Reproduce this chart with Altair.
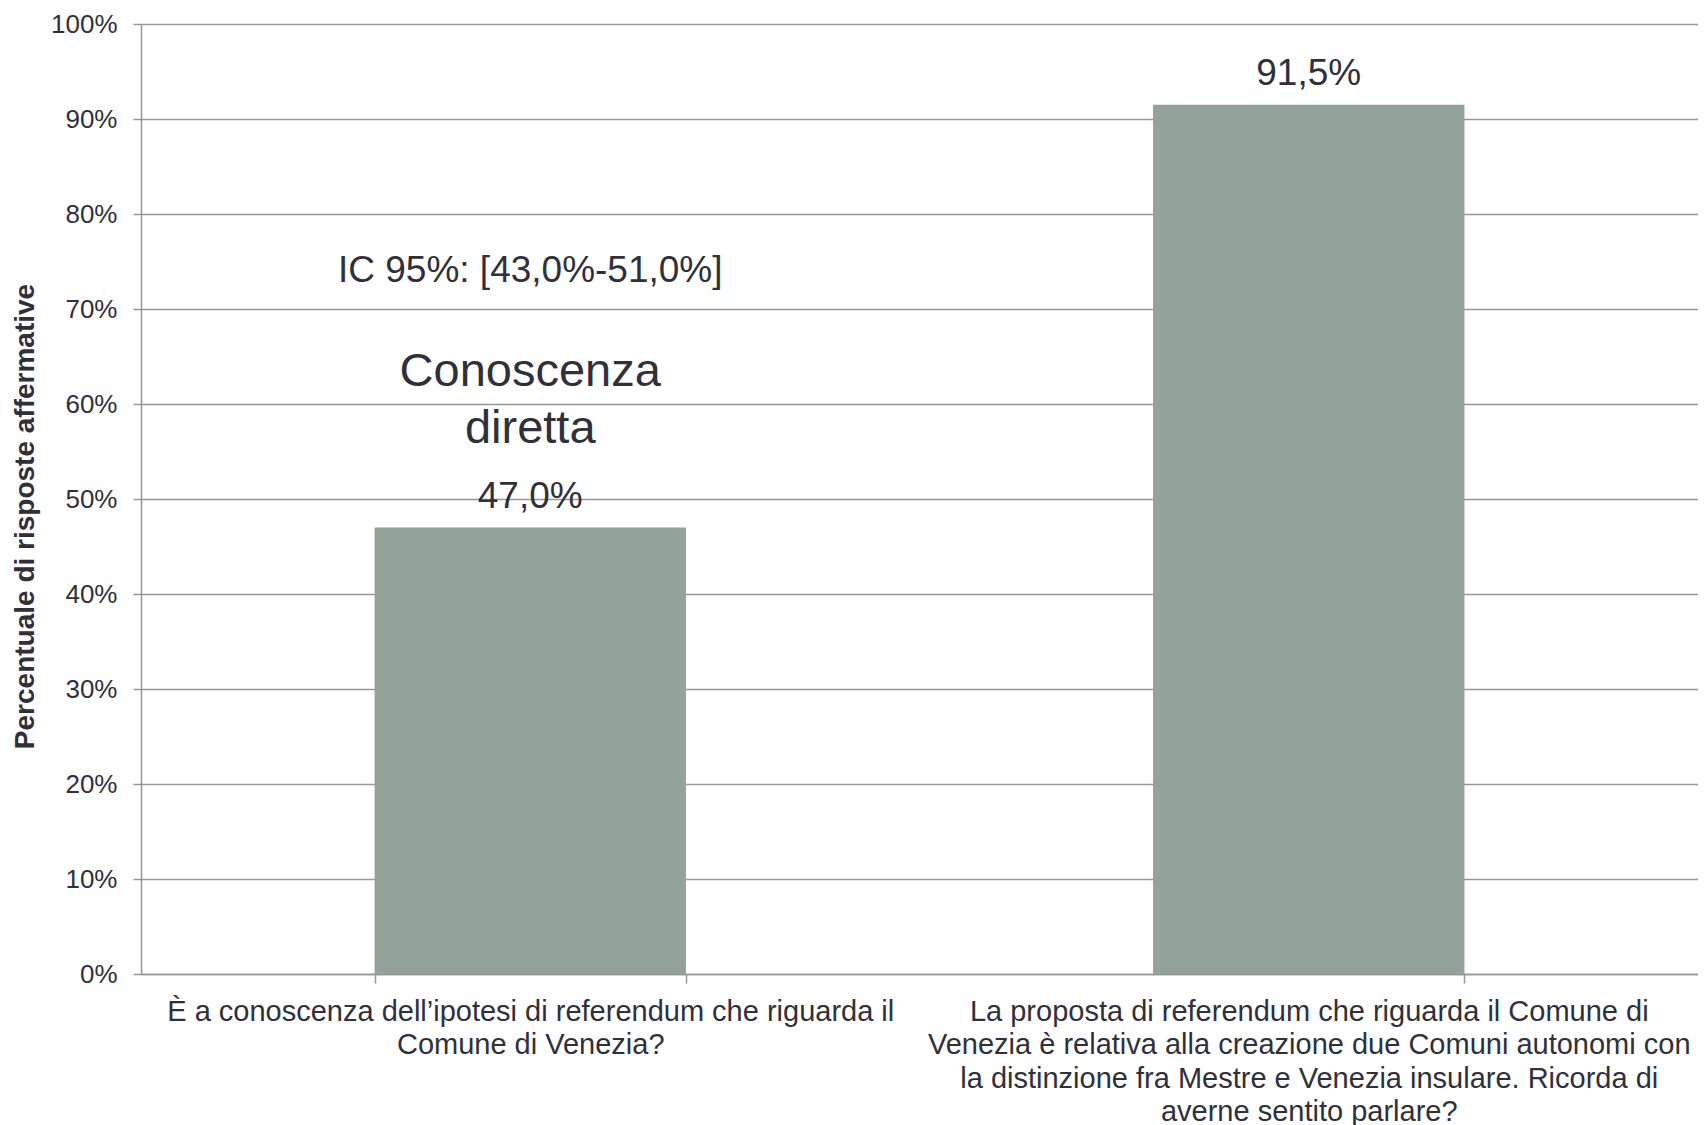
import altair as alt
import pandas as pd

# ---- data ----
question_lines = [
    ["È a conoscenza dell’ipotesi di referendum che riguarda il", "Comune di Venezia?"],
    ["La proposta di referendum che riguarda il Comune di",
     "Venezia è relativa alla creazione due Comuni autonomi con",
     "la distinzione fra Mestre e Venezia insulare. Ricorda di",
     "averne sentito parlare?"],
]
values = [47.0, 91.5]
value_labels = ["47,0%", "91,5%"]
y_ticks = [0, 10, 20, 30, 40, 50, 60, 70, 80, 90, 100]
y_title = "Percentuale di risposte affermative"
ci_text = "IC 95%: [43,0%-51,0%]"
note_lines = ["Conoscenza", "diretta"]

categories = ["|".join(lines) for lines in question_lines]
df = pd.DataFrame({"domanda": categories, "valore": values, "etichetta": value_labels})
ann = pd.DataFrame({"domanda": [categories[0]], "valore": [values[0]],
                    "ic": [ci_text], "l1": [note_lines[0]], "l2": [note_lines[1]]})

FONT = "Liberation Sans"
TEXT = "#30303a"
GRID = "#969696"
BAR = "#93a399"

x_enc = alt.X(
    "domanda:N", sort=categories,
    scale=alt.Scale(paddingInner=0.6, paddingOuter=0.3),
    axis=alt.Axis(
        title=None, labelAngle=0, labelExpr="split(datum.label, '|')",
        labelLineHeight=33.5, labelFontSize=29, labelLimit=900, labelColor=TEXT,
        labelFont=FONT, labelBaseline="top", labelPadding=14,
        tickBand="extent", ticks=True, tickSize=9, tickColor=GRID, tickWidth=1.5,
        domainColor=GRID, domainWidth=1.5, grid=False,
    ),
)
y_enc = alt.Y(
    "valore:Q",
    scale=alt.Scale(domain=[0, 100], nice=False),
    axis=alt.Axis(
        title=y_title, values=y_ticks, labelExpr="datum.value + '%'",
        labelFontSize=26, labelFont=FONT, labelColor=TEXT, labelPadding=16,
        tickSize=8, tickColor=GRID, tickWidth=1.5, domainColor=GRID, domainWidth=1.5,
        grid=True, gridColor=GRID, gridWidth=1.5,
        titleFont=FONT, titleFontSize=28, titleFontWeight="bold", titleColor=TEXT,
        titleX=-108, titleY=492, titleBaseline="alphabetic", titleAngle=-90,
    ),
)

bars = alt.Chart(df).mark_bar(color=BAR).encode(x=x_enc, y=y_enc)

vals = alt.Chart(df).mark_text(
    font=FONT, fontSize=37, color=TEXT, baseline="alphabetic", dy=-19.5
).encode(x=alt.X("domanda:N", sort=categories), y="valore:Q", text="etichetta:N")

t_ic = alt.Chart(ann).mark_text(
    font=FONT, fontSize=37, color=TEXT, baseline="alphabetic", dy=-245.5
).encode(x=alt.X("domanda:N", sort=categories), y="valore:Q", text="ic:N")
t_l1 = alt.Chart(ann).mark_text(
    font=FONT, fontSize=47, color=TEXT, baseline="alphabetic", dy=-141.5
).encode(x=alt.X("domanda:N", sort=categories), y="valore:Q", text="l1:N")
t_l2 = alt.Chart(ann).mark_text(
    font=FONT, fontSize=47, color=TEXT, baseline="alphabetic", dy=-84.5
).encode(x=alt.X("domanda:N", sort=categories), y="valore:Q", text="l2:N")

chart = alt.layer(bars, vals, t_ic, t_l1, t_l2).properties(
    width=1557, height=950,
    autosize=alt.AutoSizeParams(type="none"),
    padding={"left": 133, "top": 16, "right": 0, "bottom": 160},
    background="white",
).configure_view(stroke=None)

chart.save("out.html", embed_options={"renderer": "svg", "actions": False})
